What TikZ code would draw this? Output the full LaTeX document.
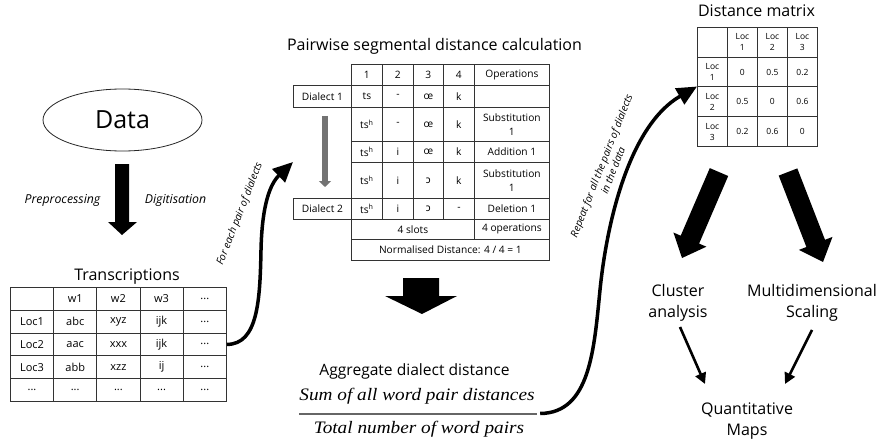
\documentclass[tikz,border=0pt]{standalone}
\usepackage{fontspec}
\setmainfont{Open Sans}
\newfontfamily\ipafont{Noto Sans}
\newfontfamily\eqfont{Liberation Serif}
\usetikzlibrary{arrows.meta,shapes.geometric}

% font sizes
\newcommand\titlefont{\fontsize{16pt}{21pt}\selectfont}
\newcommand\tabfont{\fontsize{10.2pt}{13.5pt}\selectfont}
\newcommand\trfont{\fontsize{11pt}{13pt}\selectfont}
\newcommand\dmfont{\fontsize{8.5pt}{11pt}\selectfont}
\newcommand\lblfont{\fontsize{10.3pt}{12.5pt}\selectfont\itshape}
\newcommand\eqtext{\eqfont\itshape\fontsize{17.5pt}{20pt}\selectfont}
\newcommand\tsh{ts\textsuperscript{h}}
\newcommand\oo{{\ipafont ɔ}}

\tikzset{
  cell/.style={draw=black!80, line width=0.8pt, inner sep=0pt, anchor=north west, align=center},
  tcell/.style={cell, minimum width=43.2pt, minimum height=22.8pt, font=\trfont},
  mcell/.style={cell, font=\tabfont},
  dcell/.style={cell, minimum width=30pt, minimum height=29.75pt, font=\dmfont},
  title/.style={font=\titlefont, inner sep=0pt, align=center},
  blockarrow/.style={fill=black},
  bigcurve/.style={line width=3.5pt, -{Triangle[length=20pt,width=18pt]}},
  thinarrow/.style={line width=2.6pt, -{Triangle[length=11pt,width=11pt]}},
  sidelabel/.style={font=\lblfont, inner sep=0pt, align=center},
}

% one row of the transcription table: index, top, five entries
\newcommand\trow[7]{%
  \node[tcell] (t-#1-1) at (10,#2) {#3};
  \node[tcell] (t-#1-2) at (53.2,#2) {#4};
  \node[tcell] (t-#1-3) at (96.4,#2) {#5};
  \node[tcell] (t-#1-4) at (139.6,#2) {#6};
  \node[tcell] (t-#1-5) at (182.8,#2) {#7};
}
% one row of the segment table: name, top, height, five entries
\newcommand\mrow[8]{%
  \node[mcell, minimum width=31pt, minimum height=#3pt] (#1-1) at (351,#2) {#4};
  \node[mcell, minimum width=31pt, minimum height=#3pt] (#1-2) at (382,#2) {#5};
  \node[mcell, minimum width=30pt, minimum height=#3pt] (#1-3) at (413,#2) {#6};
  \node[mcell, minimum width=31pt, minimum height=#3pt] (#1-4) at (443,#2) {#7};
  \node[mcell, minimum width=75pt, minimum height=#3pt] (#1-5) at (474,#2) {#8};
}
% one row of the distance matrix: index, top, four entries
\newcommand\drow[6]{%
  \node[dcell] (d-#1-1) at (697,#2) {#3};
  \node[dcell] (d-#1-2) at (727,#2) {#4};
  \node[dcell] (d-#1-3) at (757,#2) {#5};
  \node[dcell] (d-#1-4) at (787,#2) {#6};
}

\begin{document}
\begin{tikzpicture}[x=1pt,y=-1pt]
\useasboundingbox[fill=white] (0,0) rectangle (878,441);

% ---------- data and transcriptions ----------
\node[draw=black!85, line width=0.8pt, ellipse, minimum width=159pt, minimum height=62pt,
      font=\fontsize{25pt}{30pt}\selectfont] (data) at (122.5,120) {Data};

\fill[blockarrow] (115,164) -- (129,164) -- (129,222) -- (137,222) -- (122,235)
  -- (108,222) -- (115,222) -- cycle;
\node[font=\fontsize{12.3pt}{14pt}\selectfont\itshape] (prep) at (62.5,200) {Preprocessing};
\node[font=\fontsize{12.3pt}{14pt}\selectfont\itshape] (digi) at (175.5,200) {Digitisation};

\node[title, anchor=base] (trtitle) at (127,280) {Transcriptions};
\trow{0}{287}{}{w1}{w2}{w3}{...}
\trow{1}{309.8}{Loc1}{abc}{xyz}{ijk}{...}
\trow{2}{332.6}{Loc2}{aac}{xxx}{ijk}{...}
\trow{3}{355.4}{Loc3}{abb}{xzz}{ij}{...}
\trow{4}{378.2}{...}{...}{...}{...}{...}

% ---------- pairwise segmental distance ----------
\node[title, anchor=base] (pwtitle) at (434.5,51) {Pairwise segmental distance calculation};

\mrow{h}{64}{21}{1}{2}{3}{4}{Operations}
\mrow{r1}{85}{22}{ts}{-}{œ}{k}{}
\mrow{r2}{107}{34}{\tsh}{-}{œ}{k}{Substitution\\1}
\mrow{r3}{141}{21}{\tsh}{i}{œ}{k}{Addition 1}
\mrow{r4}{162}{36}{\tsh}{i}{\oo}{k}{Substitution\\1}
\mrow{r5}{198}{21}{\tsh}{i}{\oo}{-}{Deletion 1}
\node[mcell, minimum width=58pt, minimum height=22pt] (dial1) at (293,85) {Dialect 1};
\node[mcell, minimum width=58pt, minimum height=21pt] (dial2) at (293,198) {Dialect 2};
\node[mcell, minimum width=123pt, minimum height=20pt] (slots) at (351,219) {4 slots};
\node[mcell, minimum width=75pt, minimum height=20pt] (ops) at (474,219) {4 operations};
\node[mcell, minimum width=198pt, minimum height=21pt] (norm) at (351,239) {Normalised Distance: 4 / 4 = 1};

\draw[draw=black!55, line width=5.5pt, -{Triangle[length=6pt,width=12pt]},
      shorten <=8pt, shorten >=11pt] (dial1.south -| 325,0) -- (dial2.north -| 325,0);

% ---------- aggregate distance ----------
\fill[blockarrow] (403,278) -- (439,278) -- (439,296) -- (457,296) -- (422,314)
  -- (385,296) -- (403,296) -- cycle;
\node[title, anchor=base, font=\fontsize{15.6pt}{20pt}\selectfont] (aggr) at (414.5,375) {Aggregate dialect distance};
\node[anchor=base, inner sep=0pt, font=\eqtext] (num) at (417,400)
  {\scalebox{1.1}[1]{Sum of all word pair distances}};
\node[fill=black!60, minimum width=238pt, minimum height=2pt, inner sep=0pt] (bar) at (418,413.5) {};
\node[anchor=base, inner sep=0pt, font=\eqtext] (den) at (419,433)
  {\scalebox{1.1}[1]{Total number of word pairs}};

% ---------- distance matrix ----------
\node[title, anchor=base] (dmtitle) at (756.5,17) {Distance matrix};
\drow{0}{27}{}{Loc\\1}{Loc\\2}{Loc\\3}
\drow{1}{56.75}{Loc\\1}{0}{0.5}{0.2}
\drow{2}{86.5}{Loc\\2}{0.5}{0}{0.6}
\drow{3}{116.25}{Loc\\3}{0.2}{0.6}{0}

% ---------- analyses ----------
\fill[blockarrow] (728.2,176.0) -- (709.8,168.1) -- (680.7,235.7) -- (673.4,232.5)
  -- (682,258) -- (706.4,246.7) -- (699.1,243.6) -- cycle;
\fill[blockarrow] (778.7,175.6) -- (797.3,168.4) -- (825.0,239.8) -- (832.5,236.9)
  -- (823,262) -- (798.9,249.9) -- (806.4,247.0) -- cycle;

\node[title] (cluster) at (678,303) {Cluster\\analysis};
\node[title] (mds) at (812,303) {Multidimensional\\Scaling};
\node[title, font=\fontsize{16pt}{20.5pt}\selectfont] (maps) at (747,421) {Quantitative\\Maps};

\coordinate (c1) at (680,327);
\coordinate (c2) at (705,384);
\coordinate (m1) at (812,330);
\coordinate (m2) at (785,384);
\draw[thinarrow] (c1) -- (c2);
\draw[thinarrow] (m1) -- (m2);

% ---------- connecting curves ----------
\coordinate (pairtip) at (293,162);
\draw[bigcurve] (t-2-5.east) .. controls (258,344.5) and (260,300) .. (261,250)
  .. controls (262,205) and (270,184) .. (pairtip);
\node[sidelabel, rotate=68.7] (lbl1) at (240,214) {For each pair of dialects};

\draw[bigcurve] ([xshift=3pt]bar.east) .. controls (590,413) and (594,350) .. (600,290)
  .. controls (607,220) and (630,125) .. (d-2-1.north west);
\node[sidelabel, rotate=68.5] (lbl2) at (607,168) {Repeat for all the pairs of dialects\\in the data};

\end{tikzpicture}
\end{document}
